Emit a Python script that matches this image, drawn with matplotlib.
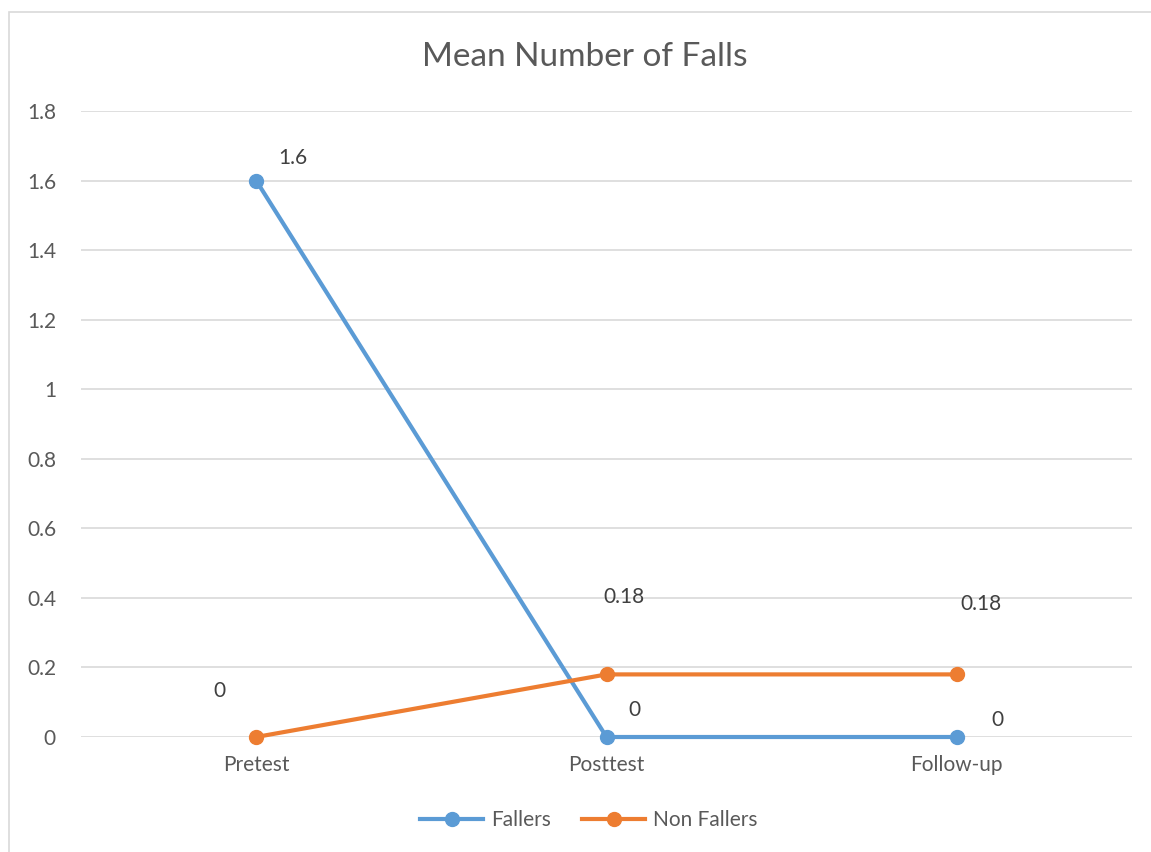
import matplotlib.pyplot as plt
from matplotlib.patches import Rectangle

plt.rcParams["font.family"] = ["Lato", "DejaVu Sans"]

categories = ["Pretest", "Posttest", "Follow-up"]
fallers = [1.6, 0, 0]
non_fallers = [0, 0.18, 0.18]
fallers_labels = ["1.6", "0", "0"]
non_fallers_labels = ["0", "0.18", "0.18"]
y_ticks = [0, 0.2, 0.4, 0.6, 0.8, 1, 1.2, 1.4, 1.6, 1.8]
y_tick_labels = ["0", "0.2", "0.4", "0.6", "0.8", "1", "1.2", "1.4", "1.6", "1.8"]

BLUE = "#5B9BD5"
ORANGE = "#ED7D31"
TEXT = "#595959"
GRID = "#D9D9D9"

W, H = 1151, 852
fig = plt.figure(figsize=(W / 100, H / 100), dpi=100)
fig.patches.append(Rectangle((9 / W, -0.01), 1.02, 1 - 12 / H + 0.01,
                             transform=fig.transFigure, fill=False,
                             edgecolor=GRID, linewidth=1.2))

ax = fig.add_axes([81 / W, (H - 737) / H, (1132 - 81) / W, (737 - 111) / H])
x = list(range(len(categories)))

ax.plot(x, fallers, color=BLUE, linewidth=3, marker="o", markersize=10,
        label="Fallers", zorder=3, clip_on=False)
ax.plot(x, non_fallers, color=ORANGE, linewidth=3, marker="o", markersize=10,
        label="Non Fallers", zorder=3, clip_on=False)

# data labels, offsets in pixels as in the original
f_off = [(37, 23), (28, 27), (41, 17)]
n_off = [(-37, 46), (17, 77), (24, 70)]
for i in x:
    ax.annotate(fallers_labels[i], (i, fallers[i]), xytext=f_off[i],
                textcoords="offset pixels", ha="center", va="center",
                fontsize=15, color="#404040")
    ax.annotate(non_fallers_labels[i], (i, non_fallers[i]), xytext=n_off[i],
                textcoords="offset pixels", ha="center", va="center",
                fontsize=15, color="#404040")

ax.set_xlim(-0.5, 2.5)
ax.set_ylim(0, 1.8)
ax.set_xticks(x)
ax.set_xticklabels(categories)
ax.set_yticks(y_ticks)
ax.set_yticklabels(y_tick_labels)
ax.tick_params(length=0, labelsize=15, colors=TEXT)
ax.tick_params(axis="x", pad=13)
ax.tick_params(axis="y", pad=18)
ax.grid(axis="y", color=GRID, linewidth=1.2)
ax.set_axisbelow(True)
for s in ax.spines.values():
    s.set_visible(False)

fig.text(585 / W, 1 - 57 / H, "Mean Number of Falls", ha="center", va="center",
         fontsize=24, color=TEXT)

fig.legend(loc="center", bbox_to_anchor=(589 / W, 1 - 820 / H), ncol=2,
           frameon=False, fontsize=15, labelcolor=TEXT, handlelength=3,
           columnspacing=1.5, handletextpad=0.4)

fig.savefig("out.png", dpi=100)
